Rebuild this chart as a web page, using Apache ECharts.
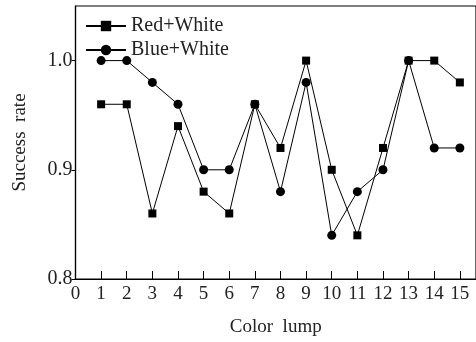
<!DOCTYPE html>
<html><head><meta charset="utf-8">
<script src="https://cdn.jsdelivr.net/npm/echarts@6/dist/echarts.min.js"></script>
<style>html,body{margin:0;padding:0;background:#fff}#c{width:476px;height:342px}</style>
</head><body><div id="c"></div>
<script>
const categories = [1,2,3,4,5,6,7,8,9,10,11,12,13,14,15];
const redWhite = [0.96,0.96,0.86,0.94,0.88,0.86,0.96,0.92,1.0,0.90,0.84,0.92,1.0,1.0,0.98];
const blueWhite = [1.0,1.0,0.98,0.96,0.90,0.90,0.96,0.88,0.98,0.84,0.88,0.90,1.0,0.92,0.92];
const xTicks = [0,1,2,3,4,5,6,7,8,9,10,11,12,13,14,15];
const yTicks = [0.8,0.9,1.0];
const seriesNames = ['Red+White','Blue+White'];

const F = '"Liberation Serif", "DejaVu Serif", serif';
const chart = echarts.init(document.getElementById('c'), null, {renderer:'canvas'});
function mk(name, vals, sym, size){
  return {name, type:'line', data: categories.map((c,i)=>[c, vals[i]]),
    symbol: sym, symbolSize: size, showSymbol:true,
    lineStyle:{color:'#000', width:1}, itemStyle:{color:'#000'},
    emphasis:{disabled:true}, animation:false};
}
chart.setOption({
  animation:false,
  grid:{left:75.5, top:6, right:-3, bottom:56, show:true, borderColor:'#000', borderWidth:1.2, containLabel:false},
  legend:{show:true, left:80, top:11, orient:'vertical', itemWidth:40, itemHeight:13, itemGap:4,
    textStyle:{fontFamily:F, fontSize:20, color:'#222', padding:[0,0,0,0]},
    data: seriesNames},
  xAxis:{type:'value', min:0, max:15.63, interval:1,
    name:'Color  lump', nameLocation:'middle', nameGap:39,
    nameTextStyle:{fontFamily:F, fontSize:19, color:'#222'},
    axisLine:{lineStyle:{color:'#000', width:1.2}},
    axisTick:{inside:true, length:8, lineStyle:{color:'#000'}, customValues: xTicks},
    axisLabel:{fontFamily:F, fontSize:19, color:'#222', margin:6, customValues: xTicks},
    splitLine:{show:false}},
  yAxis:{type:'value', min:0.8, max:1.05, interval:0.1,
    name:'Success  rate', nameLocation:'middle', nameGap:46, nameRotate:90,
    nameTextStyle:{fontFamily:F, fontSize:19, color:'#222'},
    axisLine:{lineStyle:{color:'#000', width:1.2}},
    axisTick:{inside:false, length:4, lineStyle:{color:'#000'}, customValues: yTicks},
    axisLabel:{fontFamily:F, fontSize:20, color:'#222', margin:3, customValues: yTicks,
      formatter: v=>Number(v).toFixed(1)},
    splitLine:{show:false}},
  series:[mk(seriesNames[0], redWhite, 'rect', 8), mk(seriesNames[1], blueWhite, 'circle', 9)]
});
</script></body></html>
